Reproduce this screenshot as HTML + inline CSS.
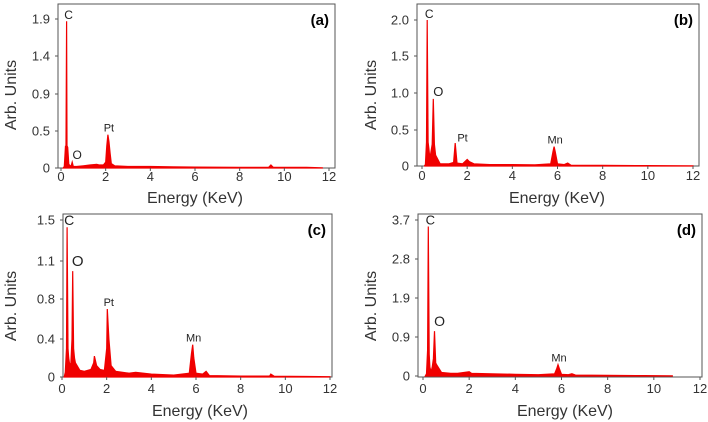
<!DOCTYPE html>
<html><head><meta charset="utf-8"><style>
body{margin:0;background:#fff;}
svg{display:block;font-family:"Liberation Sans",sans-serif;}
</style></head><body>
<svg id="chart" width="708" height="422" viewBox="0 0 708 422"></svg>
<script>
const xTicks=[0,2,4,6,8,10,12];
const aTickVals=[0,0.5,0.9,1.4,1.9];
const bTickVals=[0,0.5,1.0,1.5,2.0];
const cTickVals=[0,0.4,0.8,1.1,1.5];
const dTickVals=[0,0.9,1.9,2.8,3.7];
const aTickLabels=["0","0.5","0.9","1.4","1.9"];
const bTickLabels=["0","0.5","1.0","1.5","2.0"];
const cTickLabels=["0","0.4","0.8","1.1","1.5"];
const dTickLabels=["0","0.9","1.9","2.8","3.7"];
const aEnergy=[0.1,0.15,0.2,0.22,0.25,0.27,0.3,0.35,0.45,0.5,0.55,0.7,1.0,1.3,1.6,1.7,1.9,2.0,2.05,2.1,2.15,2.2,2.25,2.4,3.0,4.0,5.0,6.0,8.0,9.3,9.4,9.5,11.0,11.7];
const aCounts=[0,0.02,0.3,0.05,1.87,0.3,0.28,0.05,0.02,0.08,0.02,0.02,0.03,0.04,0.05,0.04,0.04,0.08,0.3,0.45,0.35,0.2,0.06,0.03,0.02,0.02,0.015,0.012,0.01,0.01,0.04,0.01,0.008,0.003];
const bEnergy=[0.1,0.15,0.2,0.23,0.27,0.3,0.35,0.4,0.45,0.5,0.55,0.6,0.8,1.2,1.4,1.47,1.55,1.8,2.0,2.1,2.3,3.0,4.0,5.0,5.7,5.8,5.85,5.9,6.0,6.3,6.45,6.6,8.0,10.0,12.0];
const bCounts=[0,0.02,0.33,2.0,0.33,0.25,0.1,0.2,0.3,0.92,0.3,0.15,0.03,0.03,0.05,0.32,0.04,0.03,0.09,0.06,0.03,0.02,0.02,0.015,0.03,0.2,0.27,0.2,0.03,0.02,0.04,0.01,0.008,0.005,0.003];
const cEnergy=[0.1,0.15,0.2,0.23,0.27,0.3,0.35,0.4,0.45,0.48,0.52,0.56,0.6,0.8,1.0,1.3,1.42,1.45,1.55,1.7,1.9,2.0,2.03,2.1,2.2,2.4,3.0,3.3,4.0,5.0,5.7,5.8,5.85,5.9,6.0,6.3,6.45,6.6,8.0,9.3,9.35,9.5,11.0,12.0];
const cCounts=[0,0.05,0.3,1.43,0.3,0.2,0.12,0.15,0.4,1.02,0.3,0.2,0.15,0.07,0.06,0.08,0.15,0.22,0.12,0.08,0.07,0.3,0.7,0.4,0.12,0.06,0.04,0.05,0.03,0.02,0.04,0.25,0.34,0.2,0.04,0.03,0.06,0.015,0.01,0.01,0.03,0.008,0.005,0.003];
const dEnergy=[0.1,0.15,0.2,0.23,0.27,0.3,0.35,0.4,0.45,0.5,0.55,0.6,0.8,1.2,1.5,2.0,2.1,3.0,4.0,5.0,5.7,5.8,5.85,5.9,6.0,6.3,6.45,6.6,8.0,9.6,10.8];
const dCounts=[0,0.05,0.6,3.55,0.5,0.2,0.1,0.2,0.4,1.05,0.3,0.25,0.08,0.06,0.06,0.1,0.06,0.05,0.04,0.03,0.05,0.18,0.26,0.18,0.04,0.03,0.05,0.02,0.015,0.01,0.005];

const NS="http://www.w3.org/2000/svg";
const svg=document.getElementById('chart');
function mk(tag,attrs,parent){const e=document.createElementNS(NS,tag);for(const k in attrs)e.setAttribute(k,attrs[k]);(parent||svg).appendChild(e);return e;}

const panels=[
 {id:'a',box:[58,4,335,168],x0:61,x12:329,tickY:[168,131,94,56,19],vals:aTickVals,labels:aTickLabels,E:aEnergy,C:aCounts,yt:[12,95],xt:[195,198],xl:181,
  ann:[['C',0.25,1.87,-2,12],['O',0.5,0.08,-3,12],['Pt',2.1,0.45,-3,11]]},
 {id:'b',box:[417,4,699,166],x0:422,x12:693,tickY:[166,130,93,56,20],vals:bTickVals,labels:bTickLabels,E:bEnergy,C:bCounts,yt:[372,95],xt:[557,198],xl:180,
  ann:[['C',0.23,2.0,-2,12],['O',0.5,0.92,-3,13],['Pt',1.75,0.3,-3,11],['Mn',5.85,0.27,-3,11]]},
 {id:'c',box:[63,214,332,377],x0:62,x12:330,tickY:[377,339,299,261,220],vals:cTickVals,labels:cTickLabels,E:cEnergy,C:cCounts,yt:[12,306],xt:[200,411],xl:393,
  ann:[['C',0.23,1.43,-2,14],['O',0.48,1.02,-5,15],['Pt',2.05,0.7,-3,11],['Mn',5.85,0.34,-3,11]]},
 {id:'d',box:[418,214,702,377],x0:423,x12:700,tickY:[376,337,298,259,220],vals:dTickVals,labels:dTickLabels,E:dEnergy,C:dCounts,yt:[372,306],xt:[565,411],xl:393,
  ann:[['C',0.23,3.55,-2,13],['O',0.5,1.05,-5,14],['Mn',5.85,0.26,-3,11]]}
];
panels.forEach(p=>{
  const g=mk('g',{});
  
  
  const xs=e=>p.x0+(p.x12-p.x0)*e/12;
  const ys=v=>{const t=p.vals,Y=p.tickY;if(v<=t[0])return Y[0];for(let i=1;i<t.length;i++){if(v<=t[i])return Y[i-1]+(Y[i]-Y[i-1])*(v-t[i-1])/(t[i]-t[i-1]);}const n=t.length-1;return Y[n]+(Y[n]-Y[n-1])*(v-t[n])/(t[n]-t[n-1]);};
  const [l,t,r,b]=p.box;
  const fr=mk('rect',{x:l,y:t,width:r-l,height:b-t,fill:'none',stroke:'#555','stroke-width':1},g);
  
  let d='M'+xs(p.E[0])+','+ys(0);
  for(let i=0;i<p.E.length;i++){d+=' L'+xs(p.E[i]).toFixed(1)+','+ys(p.C[i]).toFixed(1);}
  d+=' L'+xs(p.E[p.E.length-1])+','+ys(0)+' Z';
  const sp=mk('path',{d:d,fill:'#f00000',stroke:'#f00000','stroke-width':1.2,'stroke-linejoin':'miter'},g);
  
  xTicks.forEach(v=>{
    const ln=mk('line',{x1:xs(v),x2:xs(v),y1:b,y2:b+3,stroke:'#555'},g);
    
    const tx=mk('text',{x:xs(v),y:p.xl,'font-size':13,'text-anchor':'middle',fill:'#333'},g);
    
    tx.textContent=v;
  });
  p.vals.forEach((v,i)=>{
    const ln=mk('line',{x1:l-3,x2:l,y1:ys(v),y2:ys(v),stroke:'#555'},g);
    
    const tx=mk('text',{x:l-8,y:ys(v)+4.5,'font-size':13,'text-anchor':'end',fill:'#333'},g);
    
    tx.textContent=p.labels[i];
  });
  const yt=mk('text',{x:p.yt[0],y:p.yt[1],'font-size':16,'text-anchor':'middle',fill:'#333',transform:'rotate(-90 '+p.yt[0]+' '+p.yt[1]+')','dominant-baseline':'middle'},g);
  
  yt.textContent='Arb. Units';
  const xt=mk('text',{x:p.xt[0],y:p.xt[1]+5,'font-size':16,'text-anchor':'middle',fill:'#333'},g);
  
  xt.textContent='Energy (KeV)';
  const pl=mk('text',{x:r-6,y:t+21,'font-size':15,'font-weight':'bold','text-anchor':'end',fill:'#000'},g);
  
  pl.textContent='('+p.id+')';
  p.ann.forEach(a=>{
    const tx=mk('text',{x:xs(a[1])+(a[0]==='O'?5:(a[0]==='C'?2:1)),y:ys(a[2])+a[3],'font-size':a[4],'text-anchor':'middle',fill:'#222'},g);
    
    tx.textContent=a[0];
  });
});
</script>
</body></html>
